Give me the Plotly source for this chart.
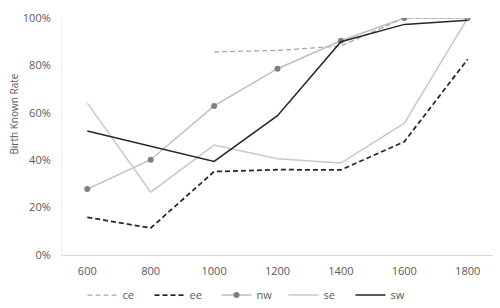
import plotly.graph_objects as go

years = ["600", "800", "1000", "1200", "1400", "1600", "1800"]
ce = [None, None, 85.7, 86.3, 88.2, 100.0, 100.0]
ee = [15.9, 11.4, 35.2, 36.0, 35.9, 47.8, 82.6]
nw = [27.8, 40.2, 62.9, 78.6, 90.4, 100.0, 100.0]
se = [64.1, 26.5, 46.4, 40.6, 38.8, 55.6, 100.0]
sw = [52.3, 45.9, 39.5, 58.8, 90.0, 97.3, 99.0]
y_ticks = [0, 20, 40, 60, 80, 100]
y_labels = ["0%", "20%", "40%", "60%", "80%", "100%"]

FONT = "Open Sans"
TICK = "#595959"

fig = go.Figure()
fig.add_trace(go.Scatter(x=years, y=ce, name="ce", mode="lines",
                         line=dict(color="#a6a6a6", width=1.25, dash="5px,3px")))
fig.add_trace(go.Scatter(x=years, y=ee, name="ee", mode="lines",
                         line=dict(color="#262626", width=1.75, dash="5px,3px")))
fig.add_trace(go.Scatter(x=years, y=nw, name="nw", mode="lines+markers",
                         line=dict(color="#bfbfbf", width=1.5),
                         marker=dict(color="#808080", size=6)))
fig.add_trace(go.Scatter(x=years, y=se, name="se", mode="lines",
                         line=dict(color="#c8c8c8", width=1.5)))
fig.add_trace(go.Scatter(x=years, y=sw, name="sw", mode="lines",
                         line=dict(color="#262626", width=1.5)))

fig.update_layout(
    width=500, height=308,
    margin=dict(l=62, r=7, t=18, b=53, autoexpand=False),
    paper_bgcolor="white", plot_bgcolor="white",
    font=dict(family=FONT, size=11, color=TICK),
    showlegend=True,
    legend=dict(orientation="h", x=0.5, xanchor="center", xref="container",
                y=0.042, yanchor="middle", yref="container",
                font=dict(size=11, color=TICK), itemwidth=30, traceorder="normal",
                tracegroupgap=0, entrywidth=22, entrywidthmode="pixels"),
    xaxis=dict(type="category", showgrid=False, showline=True, linecolor="#d9d9d9",
               linewidth=1, ticks="", tickfont=dict(size=11, color=TICK), ticklabelstandoff=6),
    yaxis=dict(range=[0, 100], tickvals=y_ticks, ticktext=y_labels, showgrid=False,
               showline=True, linecolor="#eeeeee", linewidth=1, ticks="", zeroline=False,
               tickfont=dict(size=11, color=TICK), ticklabelstandoff=8),
    annotations=[dict(text="Birth Known Rate", textangle=-90, xref="paper", yref="paper",
                      x=-0.111, y=0.593, xanchor="center", yanchor="middle",
                      showarrow=False, font=dict(size=10, color=TICK))],
)

fig.write_html("out.html")
